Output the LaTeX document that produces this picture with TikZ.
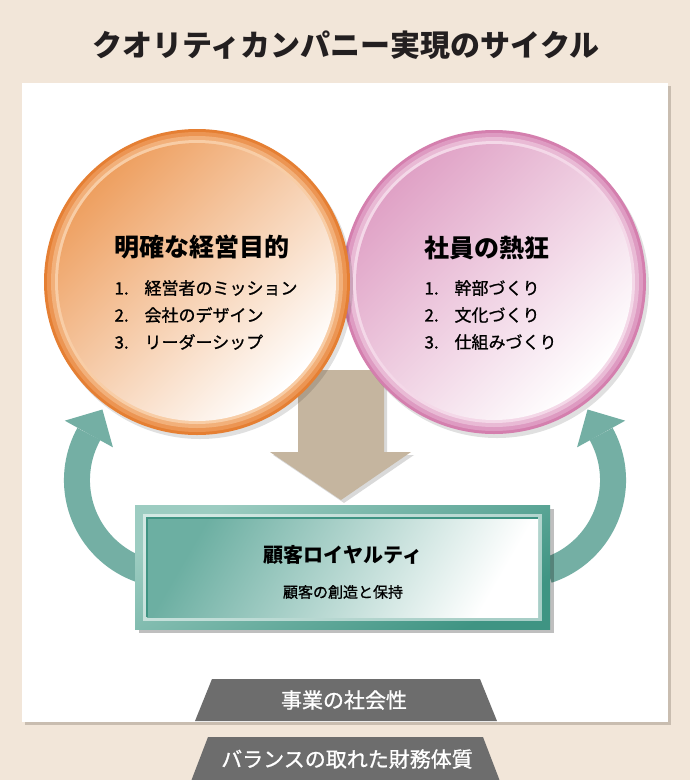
\documentclass[tikz,border=0pt]{standalone}
\usepackage{fontspec}
\setmainfont{Noto Sans CJK JP}
\newfontfamily\midfont[FakeBold=1]{Noto Sans CJK JP}
\usepackage{xcolor}
\usetikzlibrary{calc}
\definecolor{bgbeige}{HTML}{F2E6D9}
\definecolor{panelshade}{HTML}{C9BDB0}
\definecolor{inktext}{HTML}{231F20}
\definecolor{orangeA}{HTML}{E57F33}
\definecolor{orangeB}{HTML}{EC9553}
\definecolor{orangeC}{HTML}{F2B07A}
\definecolor{orangeD}{HTML}{F8CDA6}
\definecolor{orangeE}{HTML}{EEA061}
\definecolor{orangeF}{HTML}{F8D8BC}
\definecolor{pinkA}{HTML}{D47FAE}
\definecolor{pinkB}{HTML}{DE9BC2}
\definecolor{pinkC}{HTML}{E9BAD5}
\definecolor{pinkD}{HTML}{F4D8E8}
\definecolor{pinkE}{HTML}{E0A2C6}
\definecolor{pinkF}{HTML}{F2D6E6}
\definecolor{cycteal}{HTML}{74AFA4}
\definecolor{frameA}{HTML}{9CCCC1}
\definecolor{frameB}{HTML}{3F9483}
\definecolor{panelA}{HTML}{6CAFA2}
\definecolor{flowbeige}{HTML}{C5B59F}
\definecolor{plategray}{HTML}{6D6D6D}

\begin{document}
\begin{tikzpicture}[x=1pt, y=-1pt,
    cycband/.style={line width=26pt, draw=cycteal},
    circtitle/.style={anchor=west, text=black, font=\fontsize{25}{30}\selectfont\bfseries},
    circitem/.style={anchor=west, text=black, font=\fontsize{17}{20}\selectfont\midfont},
    platetext/.style={text=white, font=\fontsize{21}{25}\selectfont\midfont}]
    \useasboundingbox (0,0) rectangle (690,780);
    \fill[bgbeige] (0,0) rectangle (690,780);
    \node[text=inktext, font=\fontsize{30}{35}\selectfont\bfseries] (title) at (346,45) {クオリティカンパニー実現のサイクル};
    \fill[panelshade] (25,86) rectangle (671,725);
    \fill[white] (22,83) rectangle (668,722);

    % cycle arrows
    \coordinate (lstart) at (142.6,570.4);
    \coordinate (rstart) at (547.4,570.4);
    \draw[cycband] (lstart) arc[start angle=108, end angle=209, radius=95] coordinate (lbase);
    \fill[cycteal] ($(lbase)+(29:27.5)$) -- ($(lbase)+(299:28)$) -- ($(lbase)+(209:27.5)$) -- cycle;
    \draw[cycband] (rstart) arc[start angle=72, end angle=-29, radius=95] coordinate (rbase);
    \fill[cycteal] ($(rbase)+(151:27.5)$) -- ($(rbase)+(241:28)$) -- ($(rbase)+(331:27.5)$) -- cycle;

    \coordinate (flowtip) at (341,500);
    \fill[black, opacity=.15] (301,373) -- (387,373) -- (387,455) -- (414,455) -- (344,503) -- (273,455) -- (301,455) -- cycle;
    \fill[flowbeige] (298,370) -- (384,370) -- (384,452) -- (411,452) -- (flowtip) -- (270,452) -- (298,452) -- cycle;

    \coordinate (staffc) at (494,282);
    \coordinate (aimc) at (197,282);
    \fill[black, opacity=.12] (staffc) ++(3,4) circle[radius=152];
    \foreach \r/\c in {152/pinkA, 149/pinkB, 145/pinkC, 141/pinkD}
        \fill[\c] (staffc) circle[radius=\r];
    \shade[top color=pinkE, middle color=pinkF, bottom color=white, shading angle=45] (staffc) circle[radius=138];
    \fill[black, opacity=.12] (aimc) ++(3,4) circle[radius=153];
    \foreach \r/\c in {153/orangeA, 150/orangeB, 146/orangeC, 142/orangeD}
        \fill[\c] (aimc) circle[radius=\r];
    \shade[top color=orangeE, middle color=orangeF, bottom color=white, shading angle=45] (aimc) circle[radius=139];

    \node[circtitle] (aim) at (111,247) {明確な経営目的};
    \foreach \y/\t [count=\i] in {288/経営者のミッション, 315/会社のデザイン, 342/リーダーシップ}
        \node[circitem] (aim\i) at (111,\y) {\makebox[30pt][l]{\i.}\t};
    \node[circtitle] (staff) at (421,248) {社員の熱狂};
    \foreach \y/\t [count=\i] in {288/幹部づくり, 315/文化づくり, 342/仕組みづくり}
        \node[circitem] (staff\i) at (421,\y) {\makebox[30pt][l]{\i.}\t};

    % loyalty box
    \fill[black, opacity=.25] (139,509) rectangle (554,633);
    \shade[top color=frameA, bottom color=frameB, shading angle=30] (135,505) rectangle (550,629);
    \fill[white, opacity=.55] (143,514) rectangle (542,621);
    \shade[top color=panelA, bottom color=white, shading angle=60] (147,518) rectangle (538,617);
    \draw[frameB, line width=1.5] (147,617) -- (147,518) -- (538,518);
    \node[text=black, font=\fontsize{20}{24}\selectfont\bfseries] (loyal) at (343,555) {顧客ロイヤルティ};
    \node[text=black, font=\fontsize{15}{18}\selectfont\midfont] (loyalsub) at (343,592) {顧客の創造と保持};

    \fill[plategray] (212,679) -- (480,679) -- (497,721) -- (195,721) -- cycle;
    \node[platetext] (social) at (344,700) {事業の社会性};
    \fill[plategray] (208,737) -- (483,737) -- (499.5,780) -- (191.5,780) -- cycle;
    \node[platetext] (finance) at (347,759) {バランスの取れた財務体質};
\end{tikzpicture}
\end{document}
